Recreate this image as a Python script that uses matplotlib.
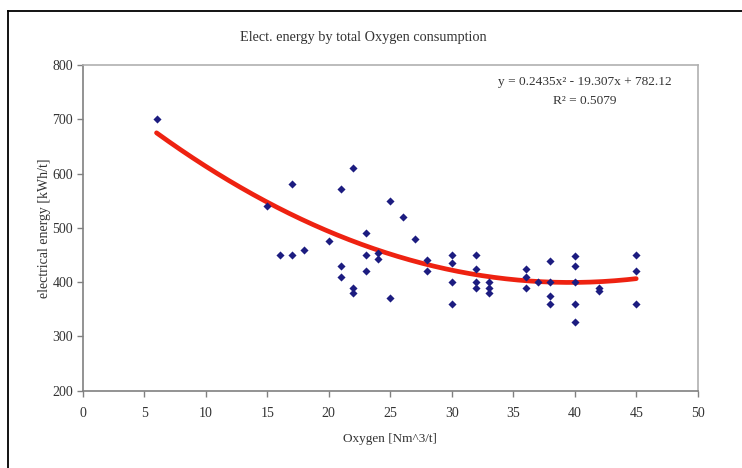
import numpy as np
import matplotlib
matplotlib.use('Agg')
import matplotlib.pyplot as plt
from matplotlib.lines import Line2D

# Dados
oxygen = [6, 15, 16, 17, 17, 18, 20,
          21, 21, 21, 22, 22, 22, 23, 23, 23, 24, 24,
          25, 25, 26, 27, 28, 28,
          30, 30, 30, 30, 32, 32, 32, 32, 33, 33, 33,
          36, 36, 36, 37, 38, 38, 38, 38,
          40, 40, 40, 40, 40, 42, 42, 45, 45, 45]
energy = [700, 540, 450, 580, 450, 460, 475,
          571, 430, 410, 610, 390, 380, 490, 450, 420, 453, 443,
          550, 370, 520, 480, 440, 420,
          450, 435, 400, 360, 450, 425, 400, 390, 400, 390, 380,
          425, 410, 390, 400, 438, 400, 375, 360,
          448, 430, 400, 360, 326, 389, 384, 450, 420, 360]

# Coeficientes da linha de tendencia (polinomial de 2a ordem)
coef = [0.2435, -19.307, 782.12]
r2 = 0.5079

x_ticks = list(range(0, 51, 5))
y_ticks = list(range(200, 801, 100))

plt.rcParams['font.family'] = ['Liberation Serif', 'DejaVu Serif']

fig = plt.figure(figsize=(7.42, 4.68), dpi=100)
ax = fig.add_axes([0.1115, 0.1652, 0.8288, 0.6959])

ax.scatter(oxygen, energy, marker='D', s=17, color='#1c1c80', zorder=3, linewidths=0)

xs = np.linspace(min(oxygen), max(oxygen), 200)
ax.plot(xs, np.polyval(coef, xs), color='#ee2211', lw=3.4, zorder=2, solid_capstyle='round')

ax.set_xlim(0, 50)
ax.set_ylim(200, 800)
ax.set_xticks(x_ticks)
ax.set_yticks(y_ticks)
ax.tick_params(direction='out', length=4, width=1, colors='#808080', labelcolor='#333333', labelsize=10)
ax.tick_params(axis='y', pad=3)
ax.tick_params(axis='x', pad=8)
for s in ax.spines.values():
    s.set_color('#b0b0b0')
    s.set_linewidth(1.2)
ax.spines['left'].set_color('#808080')
ax.spines['bottom'].set_color('#808080')

ax.set_xlabel('Oxygen [Nm^3/t]', fontsize=9.5, color='#333333', labelpad=9)
ax.set_ylabel('electrical energy [kWh/t]', fontsize=10, color='#333333', labelpad=1)

fig.text(0.49, 0.919, 'Elect. energy by total Oxygen consumption', ha='center', va='center',
         fontsize=10.3, color='#333333')

eq = 'y = %gx² - %gx + %g' % (coef[0], -coef[1], coef[2])
fig.text(0.788, 0.825, eq, ha='center', va='center', fontsize=9.6, color='#333333')
fig.text(0.788, 0.784, 'R² = %g' % r2, ha='center', va='center', fontsize=9.6, color='#333333')

# moldura externa (cortada a direita e embaixo)
fig.add_artist(Line2D([0.0108, 0.0108], [0.0, 0.9765], transform=fig.transFigure, color='black', lw=1.3))
fig.add_artist(Line2D([0.0108, 1.0], [0.9765, 0.9765], transform=fig.transFigure, color='black', lw=1.3))

fig.savefig('out.png', dpi=100)
